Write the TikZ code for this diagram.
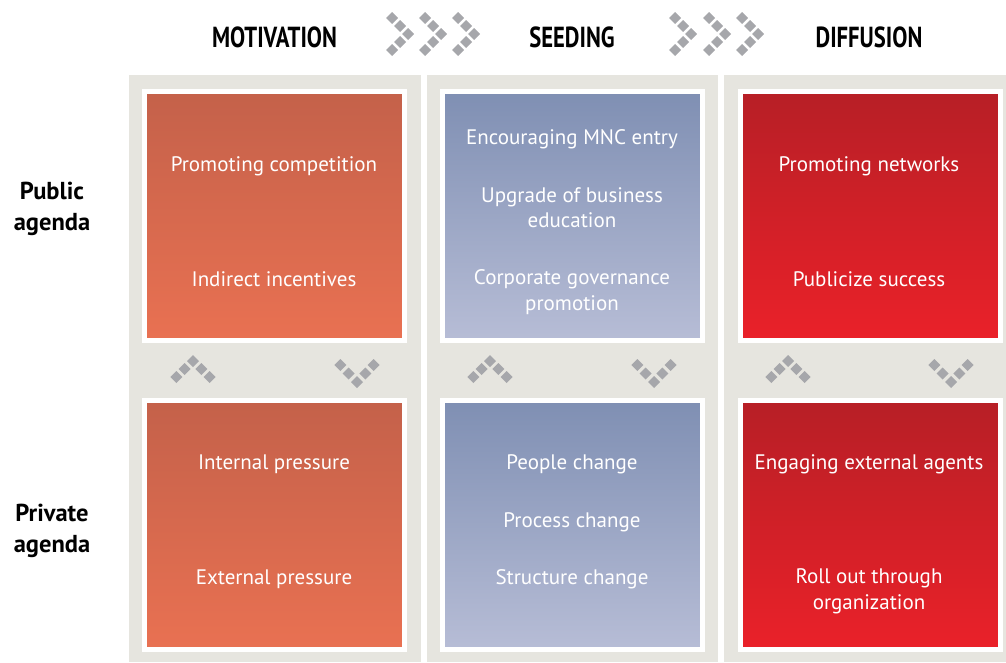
\documentclass[tikz,border=0pt]{standalone}
\usepackage{fontspec}
\setmainfont{PT Sans}
\definecolor{panelgray}{HTML}{E6E5DF}
\definecolor{tilegray}{HTML}{A6A7AB}
\definecolor{motA}{HTML}{C4614A}
\definecolor{motB}{HTML}{E97152}
\definecolor{seedA}{HTML}{7F8FB3}
\definecolor{seedB}{HTML}{B7BDD6}
\definecolor{diffA}{HTML}{B71F26}
\definecolor{diffB}{HTML}{EA2129}
\newcommand{\tile}[2]{\fill[tilegray] (#1,#2) +(0,-6) -- +(6,0) -- +(0,6) -- +(-6,0) -- cycle;}
\tikzset{
  box/.style={draw=white, line width=5pt, minimum width=260pt, minimum height=249pt, inner sep=0pt},
  motbox/.style={box, top color=motA, bottom color=motB},
  seedbox/.style={box, top color=seedA, bottom color=seedB},
  diffbox/.style={box, top color=diffA, bottom color=diffB},
  boxtext/.style={text=white, font=\fontsize{21}{25.5}\selectfont, align=center, inner sep=0pt},
  head/.style={font=\fontsize{29}{30}\selectfont\bfseries, inner sep=0pt},
  side/.style={font=\fontsize{24.5}{31.5}\selectfont\bfseries, align=center, inner sep=0pt}
}
\begin{document}
\begin{tikzpicture}[x=1pt,y=-1pt]
  \useasboundingbox (0,0) rectangle (1006,662);
  % grey columns
  \foreach \l/\r in {129/421,427/718,724/1006}
    \fill[panelgray] (\l,75) rectangle (\r,662);

  % column and row titles
  \node[head] (hmot) at (274.5,37) {\scalebox{0.78}[1]{MOTIVATION}};
  \node[head] (hseed) at (572,37) {\scalebox{0.78}[1]{SEEDING}};
  \node[head] (hdiff) at (869,37) {\scalebox{0.78}[1]{DIFFUSION}};
  \node[side] (pub) at (52,209) {Public\\agenda};
  \node[side] (priv) at (52,531) {Private\\agenda};

  % boxes
  \node[motbox] (mpub) at (274.5,216) {};
  \node[seedbox] (spub) at (572,216) {};
  \node[diffbox] (dpub) at (870,216) {};
  \node[motbox] (mpriv) at (274.5,525) {};
  \node[seedbox] (spriv) at (572,525) {};
  \node[diffbox] (dpriv) at (870,525) {};

  % texts
  \node[boxtext] (m1) at (274,166) {Promoting competition};
  \node[boxtext] (m2) at (274,279.5) {Indirect incentives};
  \node[boxtext] (s1) at (572,139) {Encouraging MNC entry};
  \node[boxtext] (s2) at (572,207.5) {Upgrade of business\\education};
  \node[boxtext] (s3) at (572,292) {Corporate governance\\promotion};
  \node[boxtext] (d1) at (869,166) {Promoting networks};
  \node[boxtext] (d2) at (869,279.5) {Publicize success};
  \node[boxtext] (m3) at (274,464) {Internal pressure};
  \node[boxtext] (m4) at (274,579) {External pressure};
  \node[boxtext] (s4) at (572,464) {People change};
  \node[boxtext] (s5) at (572,522) {Process change};
  \node[boxtext] (s6) at (572,579) {Structure change};
  \node[boxtext] (d3) at (869,464) {Engaging external agents};
  \node[boxtext] (d4) at (869,591.5) {Roll out through\\organization};

  % chevrons
  \foreach \x in {392,425,458,675,709,742}
    \foreach \i/\j in {0/0,1/1,2/2,1/3,0/4}
      {\tile{\x+8*\i}{18+8*\j}}
  \foreach \c in {193,490,788}
    \foreach \i/\j in {-2/2,-1/1,0/0,1/1,2/2}
      {\tile{\c+8.3*\i}{361+8*\j}}
  \foreach \c in {357,654,951}
    \foreach \i/\j in {-2/2,-1/1,0/0,1/1,2/2}
      {\tile{\c+8.3*\i}{382-8.5*\j}}
\end{tikzpicture}
\end{document}
